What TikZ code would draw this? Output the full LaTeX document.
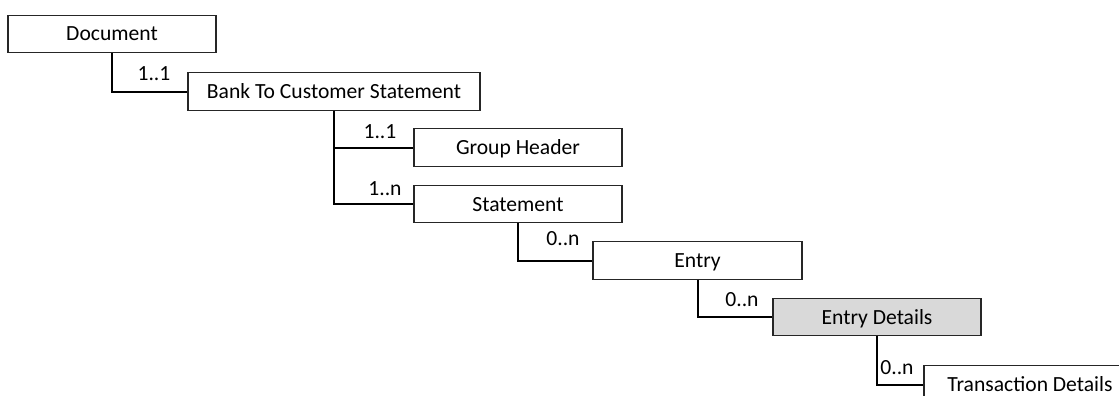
\documentclass[tikz,border=0pt]{standalone}
\usepackage{fontspec}
\setmainfont{Carlito}
\begin{document}
\begin{tikzpicture}[x=1pt,y=-1pt,
  box/.style={draw=black!85, line width=1.1pt, fill=white, inner sep=0pt, minimum height=37.5pt, font=\fontsize{21.6}{23}\selectfont, text height=14pt, text depth=0pt, anchor=center},
  mult/.style={inner sep=0pt, font=\fontsize{21.6}{23}\selectfont, text height=14pt, text depth=0pt, anchor=center},
  link/.style={draw=black, line width=2pt}]
\useasboundingbox (0,0) rectangle (1119,396);
\clip (0,0) rectangle (1119,396);
\node[box, minimum width=208pt] (doc) at (112,34) {Document};
\node[box, minimum width=292pt] (bank) at (334,91.5) {Bank To Customer Statement};
\node[box, minimum width=208pt] (grp) at (518,147.5) {Group Header};
\node[box, minimum width=208pt] (stmt) at (518,204) {Statement};
\node[box, minimum width=209pt] (entry) at (697.5,260.5) {Entry};
\node[box, minimum width=208pt, fill=black!15] (ed) at (877,317) {Entry Details};
\node[box, minimum width=212pt] (tx) at (1030,384.5) {Transaction Details};
\draw[link] (doc.south) |- (bank.west);
\draw[link] (bank.south) |- (grp.west);
\draw[link] (bank.south) |- (stmt.west);
\draw[link] (stmt.south) |- (entry.west);
\draw[link] (entry.south) |- (ed.west);
\draw[link] (ed.south) |- (tx.west);
\node[mult] (m1) at (154,74) {1..1};
\node[mult] (m2) at (380,131) {1..1};
\node[mult] (m3) at (385,188) {1..n};
\node[mult] (m4) at (563,238) {0..n};
\node[mult] (m5) at (742,299) {0..n};
\node[mult] (m6) at (897,367) {0..n};
\end{tikzpicture}
\end{document}
